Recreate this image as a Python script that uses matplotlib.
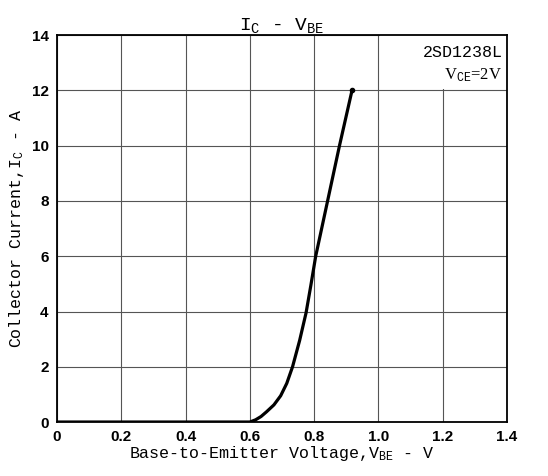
import matplotlib
matplotlib.use("Agg")
import matplotlib.pyplot as plt
from matplotlib.patches import Rectangle

plt.rcParams['font.family'] = 'Liberation Mono'
plt.rcParams['mathtext.fontset'] = 'custom'
plt.rcParams['mathtext.rm'] = 'Liberation Mono'
plt.rcParams['mathtext.it'] = 'Liberation Mono'

vbe = [0.0, 0.3, 0.6, 0.618, 0.635, 0.652, 0.675, 0.696, 0.715, 0.733,
       0.755, 0.775, 0.79, 0.805, 0.842, 0.879, 0.918]
ic = [0.0, 0.0, 0.0, 0.08, 0.2, 0.37, 0.62, 0.95, 1.4, 2.0,
      2.95, 3.95, 4.95, 6.0, 8.0, 10.0, 12.0]

xticks = [0, 0.2, 0.4, 0.6, 0.8, 1.0, 1.2, 1.4]
xlabels = ['0', '0.2', '0.4', '0.6', '0.8', '1.0', '1.2', '1.4']
yticks = [0, 2, 4, 6, 8, 10, 12, 14]

fig = plt.figure(figsize=(5.48, 4.76), dpi=100)
ax = fig.add_axes([0.104, 0.1134, 0.821, 0.8126])

ax.plot(vbe, ic, color='black', lw=2.3, solid_capstyle='round', solid_joinstyle='round')
ax.plot(vbe[-1], ic[-1], 'o', color='black', ms=3)

ax.set_xlim(0, 1.4)
ax.set_ylim(0, 14)
ax.set_xticks(xticks)
ax.set_xticklabels(xlabels)
ax.set_yticks(yticks)
ax.tick_params(length=0, labelsize=11, pad=6)
for t in ax.get_xticklabels() + ax.get_yticklabels():
    t.set_fontfamily('Liberation Sans')
    t.set_fontweight('bold')
ax.grid(True, color='#555555', lw=0.8)
for s in ax.spines.values():
    s.set_linewidth(1.3)

# white label box hides the 1.2 gridline above 12 A
ax.add_patch(Rectangle((1.005, 12.06), 0.395, 1.94, facecolor='white',
                       edgecolor='none', zorder=2))

ax.set_title('I$_{\\rm C}$ - V$_{\\rm BE}$', fontsize=14, pad=3)
ax.set_xlabel('Base-to-Emitter Voltage,V$_{\\rm BE}$ - V', fontsize=12, labelpad=0)
ax.set_ylabel('Collector Current,I$_{\\rm C}$ - A', fontsize=12, labelpad=4)

ax.text(0.99, 0.975, '2SD1238L', transform=ax.transAxes, ha='right', va='top',
        fontsize=12, zorder=3)
ax.text(0.99, 0.92, 'V$_{\\rm CE}$=2V', transform=ax.transAxes, ha='right', va='top',
        fontsize=12, family='Liberation Serif', zorder=3)

fig.savefig('out.png', dpi=100)
